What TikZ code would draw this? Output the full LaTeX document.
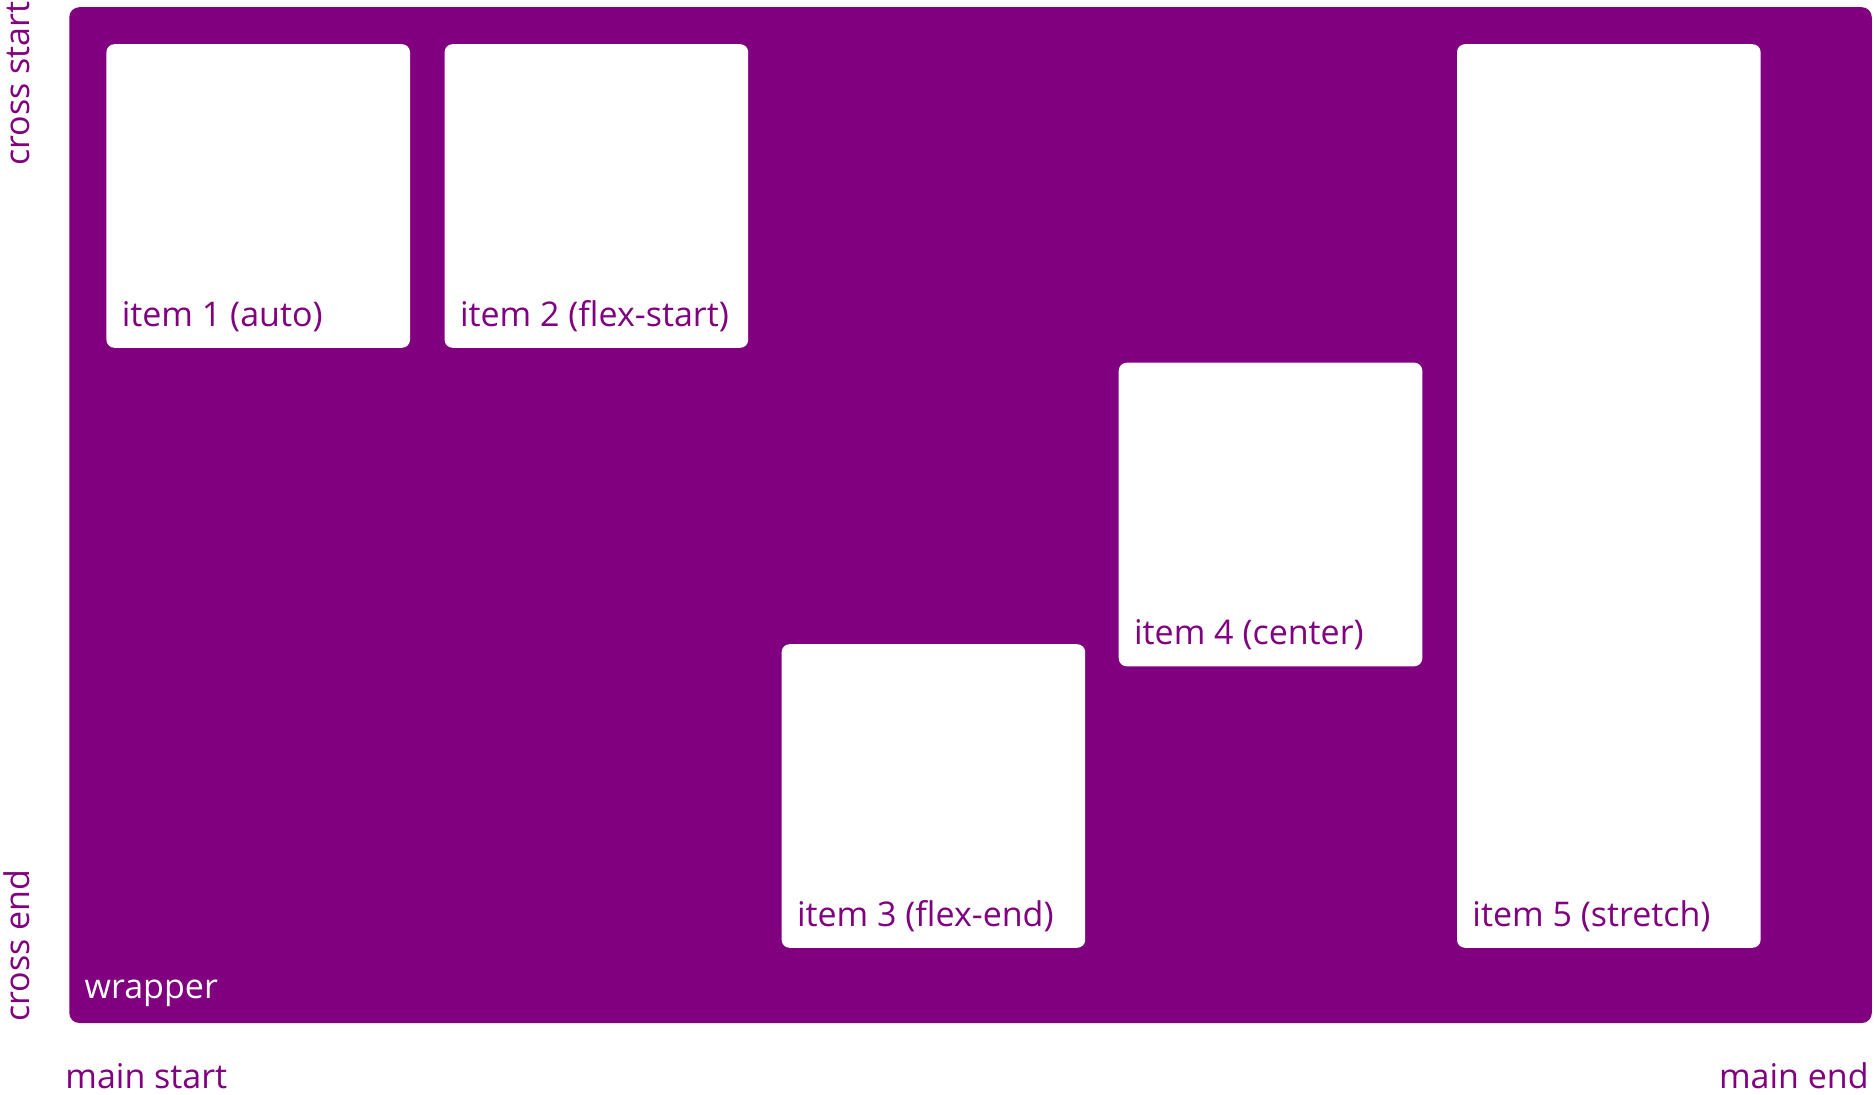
\documentclass[tikz,border=0pt]{standalone}
\usepackage{fontspec}
\setmainfont{Open Sans}
\usepackage{tikz}
\definecolor{flexpurple}{HTML}{800080}
\tikzset{wrap node/.style={rectangle,fill=flexpurple,rounded corners=5pt,inner sep=0pt,outer sep=0pt,minimum width=901.25pt,minimum height=507.9pt},
item node/.style={rectangle,fill=white,rounded corners=4pt,inner sep=0pt,outer sep=0pt,minimum width=151.8pt,minimum height=151.8pt},
item text/.style={anchor=base west,inner sep=0pt,text=flexpurple,font=\fontsize{17}{20}\selectfont},
axis text/.style={inner sep=0pt,text=flexpurple,font=\fontsize{17}{20}\selectfont},
}
\usetikzlibrary{positioning}

\begin{document}
\begin{tikzpicture}[x=0.5pt,y=-0.5pt]
	\useasboundingbox (0,0) rectangle (1874,1095);

	%% wrapper
	\node[wrap node] (w) at (970.55,515.1) {};
	\node[item text,text=white] (wl) at ([xshift=7.5pt,yshift=12.5pt]w.south west) {wrapper};

	%% items
	\node[item node] (1) at (258.2,196) {};
	\node[item node] (2) [right = 17.3pt of 1] {};
	\node[item node] (3) at (933.4,796) {};
	\node[item node] (4) at (1270.5,514.5) {};
	\node[item node,minimum height=451.8pt] (5) at (1608.8,496) {};

	\node[item text] (t1) at ([xshift=7.5pt,yshift=10.8pt]1.south west) {item 1 (auto)};
	\node[item text] (t2) at ([xshift=7.5pt,yshift=10.8pt]2.south west) {item 2 (flex-start)};
	\node[item text] (t3) at ([xshift=7.5pt,yshift=10.8pt]3.south west) {item 3 (flex-end)};
	\node[item text] (t4) at ([xshift=7.5pt,yshift=10.8pt]4.south west) {item 4 (center)};
	\node[item text] (t5) at ([xshift=7.5pt,yshift=10.8pt]5.south west) {item 5 (stretch)};

	%% axes
	\node[axis text,rotate=90,anchor=base east] (cs) at (29,1) {cross start};
	\node[axis text,rotate=90,anchor=base west] (ce) at (29,1022) {cross end};
	\node[axis text,anchor=base west] (ms) at (65,1088) {main start};
	\node[axis text,anchor=base east] (me) at (1869,1088) {main end};
\end{tikzpicture}
\end{document}
